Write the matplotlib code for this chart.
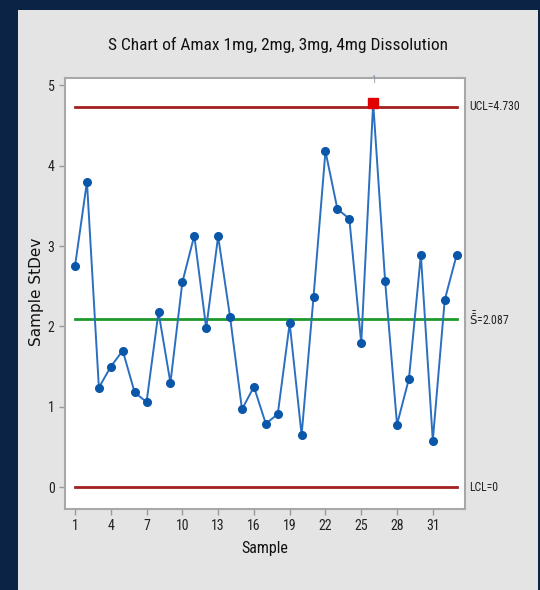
import matplotlib
matplotlib.use("Agg")
import matplotlib.pyplot as plt
from matplotlib.patches import Rectangle

# sample standard deviations
samples = list(range(1, 34))
stdev = [2.75, 3.80, 1.24, 1.50, 1.70, 1.18, 1.06, 2.18, 1.30, 2.55,
         3.13, 1.98, 3.12, 2.12, 0.97, 1.25, 0.79, 0.91, 2.04, 0.65,
         2.37, 4.18, 3.46, 3.34, 1.79, 4.78, 2.57, 0.78, 1.35, 2.89,
         0.58, 2.33, 2.89]
ucl = 4.730
center = 2.087
lcl = 0.0
out_of_control = [26]
xticks = [1, 4, 7, 10, 13, 16, 19, 22, 25, 28, 31]
yticks = [0, 1, 2, 3, 4, 5]

narrow = ["Roboto Condensed", "Open Sans Condensed", "Liberation Sans"]

fig = plt.figure(figsize=(5.4, 5.9), dpi=100)
fig.patch.set_facecolor("#0b2446")
fig.patches.append(Rectangle((18 / 540, 0), 520 / 540, 1 - 10 / 590,
                             transform=fig.transFigure, facecolor="#e4e4e4",
                             edgecolor="none", zorder=-10))

ax = fig.add_axes([65 / 540, 1 - 509 / 590, 400 / 540, 431 / 590])
ax.set_facecolor("white")

first, last = samples[0], samples[-1]
ax.plot([first, last], [ucl, ucl], color="#a32020", lw=2, zorder=2)
ax.plot([first, last], [lcl, lcl], color="#a32020", lw=2, zorder=2)
ax.plot([first, last], [center, center], color="#1e9a2a", lw=2, zorder=2)

ax.plot(samples, stdev, color="#2a6fc0", lw=1.4, marker="o", ms=5.5,
        mfc="#0a56a8", mec="#0a56a8", zorder=3)
for s in out_of_control:
    ax.plot(s, stdev[s - 1], marker="s", ms=7, color="#e00000", zorder=4)
    ax.text(s, 5.06, "1", ha="center", va="center", fontsize=7,
            color="#8a98a6", family=narrow, clip_on=False)

ax.set_xlim(0.16, 33.7)
ax.set_ylim(-0.27, 5.09)
ax.set_xticks(xticks)
ax.set_yticks(yticks)
ax.tick_params(axis="both", direction="out", length=4, width=1,
               color="#9a9a9a", labelcolor="#222222", labelsize=10)
for lab in ax.get_xticklabels() + ax.get_yticklabels():
    lab.set_family(narrow)
for side in ["left", "top", "right", "bottom"]:
    ax.spines[side].set_color("#a8a8a8")
    ax.spines[side].set_linewidth(1.5)

label_kw = dict(transform=ax.get_yaxis_transform(), ha="left", va="center",
                fontsize=8.5, color="#222222", family=narrow)
ax.text(1.01, ucl, "UCL=4.730", **label_kw)
ax.text(1.01, center, "$\\bar{\\bar{\\mathrm{S}}}$=2.087", **label_kw)
ax.text(1.01, lcl, "LCL=0", **label_kw)

fig.text(0.515, 1 - 45 / 590, "S Chart of Amax 1mg, 2mg, 3mg, 4mg Dissolution",
         ha="center", va="center", fontsize=12.5, color="#111111", family=narrow)
fig.text(265 / 540, 1 - 548 / 590, "Sample", ha="center", va="center",
         fontsize=11.5, color="#111111", family=narrow)
fig.text(37 / 540, 1 - 292 / 590, "Sample StDev", ha="center", va="center",
         rotation=90, fontsize=11, color="#111111", family="DejaVu Sans")

fig.savefig("out.png", dpi=100, facecolor=fig.get_facecolor())
